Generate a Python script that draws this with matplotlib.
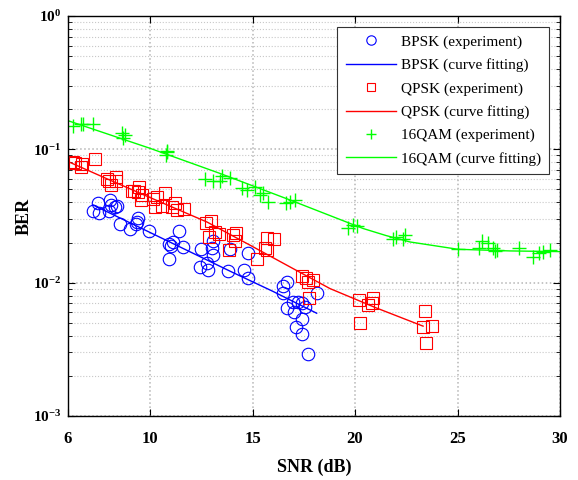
import numpy as np
import matplotlib
matplotlib.use("Agg")
import matplotlib.pyplot as plt
from matplotlib.ticker import LogLocator, NullFormatter, FuncFormatter

# BPSK measured points
bpsk_snr = [7.23, 7.48, 7.53, 8.05, 8.08, 8.29, 8.40, 8.01, 8.54, 9.02, 9.43, 9.38, 9.32, 9.97,
            11.43, 10.94, 11.14, 11.02, 11.60, 10.94, 12.47, 13.06, 13.01, 13.09, 12.80, 12.44,
            12.84, 13.90, 13.82, 14.59, 14.80, 14.80, 16.47, 16.67, 16.50, 18.16, 16.99, 17.23,
            17.40, 17.56, 16.67, 17.02, 17.40, 17.12, 17.40, 17.69]
bpsk_ber = [0.0346, 0.0394, 0.0334, 0.0417, 0.0382, 0.0371, 0.0376, 0.0346, 0.0275, 0.0251,
            0.0304, 0.0286, 0.0275, 0.0245, 0.0245, 0.0195, 0.0203, 0.0188, 0.0184, 0.0150,
            0.0179, 0.0206, 0.0181, 0.0161, 0.0141, 0.0132, 0.0124, 0.0178, 0.0123, 0.0124,
            0.0166, 0.0108, 0.00942, 0.0102, 0.00831, 0.00831, 0.00719, 0.00719, 0.00700,
            0.00653, 0.00641, 0.00605, 0.00531, 0.00467, 0.00411, 0.00291]
bpsk_fit_snr = [7.23, 10.0, 12.0, 14.0, 16.0, 18.13]
bpsk_fit_ber = [0.0382, 0.0238, 0.0169, 0.0120, 0.0086, 0.0059]

# QPSK measured points
qpsk_snr = [6.23, 6.34, 6.67, 6.62, 7.32, 7.89, 8.01, 8.08, 8.34, 8.34, 9.11, 9.22, 9.46, 9.43,
            9.60, 9.56, 10.16, 10.36, 10.73, 10.24, 10.57, 11.06, 11.22, 11.33, 11.66, 12.73,
            12.96, 12.89, 13.17, 13.38, 14.03, 14.20, 14.15, 13.87, 15.72, 16.05, 15.61, 15.69,
            15.20, 17.40, 17.61, 17.72, 17.97, 17.76, 20.20, 20.65, 20.81, 20.89, 20.24, 23.41,
            23.33, 23.74, 23.46]
qpsk_ber = [0.0807, 0.0793, 0.0772, 0.0741, 0.0841, 0.0596, 0.0581, 0.0540, 0.0617, 0.0578,
            0.0489, 0.0489, 0.0524, 0.0481, 0.0454, 0.0417, 0.0422, 0.0436, 0.0472, 0.0371,
            0.0376, 0.0371, 0.0394, 0.0351, 0.0355, 0.0279, 0.0290, 0.0221, 0.0241, 0.0232,
            0.0228, 0.0234, 0.0205, 0.0176, 0.0215, 0.0211, 0.0181, 0.0176, 0.0150, 0.0112,
            0.0108, 0.0102, 0.0105, 0.00763, 0.00741, 0.00680, 0.00707, 0.00763, 0.00500,
            0.00615, 0.00467, 0.00472, 0.00351]
qpsk_fit_snr = [6.0, 8.0, 10.0, 12.78, 15.02, 17.0, 18.78, 21.0, 23.32]
qpsk_fit_ber = [0.0810, 0.0592, 0.0435, 0.0285, 0.0186, 0.0127, 0.00903, 0.00650, 0.00472]

# 16QAM measured points
qam_snr = [6.23, 6.62, 6.75, 7.23, 8.62, 8.78, 8.70, 10.81, 10.78, 10.83, 12.68, 13.09, 13.41,
           13.50, 13.90, 14.47, 14.72, 15.12, 15.37, 15.50, 15.77, 16.63, 16.83, 17.07, 19.67,
           19.89, 20.08, 21.87, 22.00, 22.36, 22.44, 25.04, 26.06, 26.18, 26.50, 26.75, 26.83,
           26.94, 28.01, 28.67, 28.99, 29.16, 29.51]
qam_ber = [0.1496, 0.155, 0.155, 0.155, 0.1318, 0.128, 0.121, 0.0976, 0.0906, 0.0955, 0.0596,
           0.0578, 0.0578, 0.0631, 0.0606, 0.0510, 0.0495, 0.0519, 0.0454, 0.0472, 0.0404,
           0.0398, 0.0404, 0.0417, 0.0255, 0.0270, 0.0266, 0.0211, 0.0219, 0.0211, 0.0228,
           0.0178, 0.0181, 0.0206, 0.0197, 0.0181, 0.0174, 0.0176, 0.0183, 0.0155, 0.0166,
           0.0171, 0.0176]
qam_fit_snr = [6.0, 10.0, 13.41, 16.83, 20.39, 21.5, 22.68, 25.02, 27.56, 30.0]
qam_fit_ber = [0.164, 0.1018, 0.0660, 0.0417, 0.0255, 0.0226, 0.0202, 0.0178, 0.0173, 0.0171]

plt.rcParams['font.family'] = ['Liberation Serif', 'DejaVu Serif']
plt.rcParams['mathtext.fontset'] = 'custom'
plt.rcParams['mathtext.rm'] = 'Liberation Serif'
plt.rcParams['mathtext.bf'] = 'Liberation Serif:bold'

fig = plt.figure(figsize=(5.78, 4.80), dpi=100)
ax = fig.add_axes([68 / 578, 1 - 416 / 480, 492 / 578, 400 / 480])

ax.semilogy(bpsk_snr, bpsk_ber, 'o', color='blue', mfc='none', ms=9, mew=0.8,
            label='BPSK (experiment)')
ax.semilogy(bpsk_fit_snr, bpsk_fit_ber, '-', color='blue', lw=1, label='BPSK (curve fitting)')
ax.semilogy(qpsk_snr, qpsk_ber, 's', color='red', mfc='none', ms=8, mew=0.8,
            label='QPSK (experiment)')
ax.semilogy(qpsk_fit_snr, qpsk_fit_ber, '-', color='red', lw=1, label='QPSK (curve fitting)')
ax.semilogy(qam_snr, qam_ber, '+', color='#00ff00', ms=10, mew=1.0, label='16QAM (experiment)')
ax.semilogy(qam_fit_snr, qam_fit_ber, '-', color='#00ff00', lw=1, label='16QAM (curve fitting)')

ax.set_xlim(6, 30)
ax.set_ylim(1e-3, 1)
ax.set_xticks([6, 10, 15, 20, 25, 30])
ax.yaxis.set_major_locator(LogLocator(base=10, numticks=10))
ax.yaxis.set_minor_locator(LogLocator(base=10, subs=np.arange(2, 10), numticks=20))
ax.yaxis.set_minor_formatter(NullFormatter())
ax.yaxis.set_major_formatter(FuncFormatter(
    lambda v, p: r'$\mathbf{10^{%d}}$' % int(round(np.log10(v)))))
for lab in ax.get_xticklabels():
    lab.set_fontweight('bold')

ax.grid(True, which='major', color='#b5b5b5', ls=':', lw=1.1)
ax.grid(True, which='minor', axis='y', color='#c8c8c8', ls=':', lw=0.8)
ax.tick_params(which='both', direction='in', top=True, right=True)
ax.tick_params(axis='x', labelsize=12, pad=11)
ax.tick_params(axis='y', labelsize=11, pad=5)
ax.tick_params(which='major', length=5)
ax.tick_params(which='minor', length=3)
for s in ax.spines.values():
    s.set_linewidth(1)

ax.set_xlabel('SNR (dB)', fontsize=13, fontweight='bold', labelpad=8)
ax.set_ylabel('BER', fontsize=13, fontweight='bold', labelpad=0)

leg = ax.legend(loc='upper right', fontsize=11, handlelength=3.3, handletextpad=0.3,
                fancybox=False, edgecolor='#333333', framealpha=1, borderaxespad=0.7,
                labelspacing=0.62, borderpad=0.55, markerscale=0.75)
leg.get_frame().set_linewidth(0.8)

fig.savefig('out.png', dpi=100)
